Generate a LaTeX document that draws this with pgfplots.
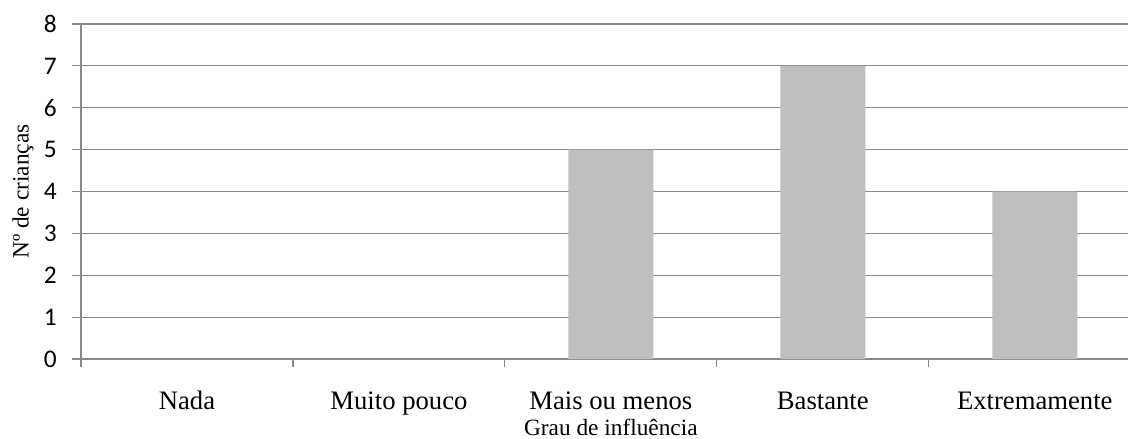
\documentclass[border=0pt]{standalone}
\usepackage{fontspec}
\setmainfont{Liberation Serif}
\newfontfamily\carlito{Carlito}
\usepackage{pgfplots}
\pgfplotsset{compat=1.18}
\definecolor{gridgray}{HTML}{898989}
\definecolor{barfill}{HTML}{BFBFBF}
\begin{document}
\begin{tikzpicture}
\path[use as bounding box] (-60.75pt,-60pt) rectangle (785.25pt,269.25pt);
\begin{axis}[
  at={(0,0)}, anchor=south west,
  scale only axis, width=785.25pt, height=251.25pt,
  xmin=-0.5, xmax=4.44, ymin=0, ymax=8,
  axis x line=bottom, axis y line=left,
  axis line style={-, draw=gridgray, line width=0.9pt},
  xtick={0,1,2,3,4},
  xticklabels={Nada, Muito pouco, Mais ou menos, Bastante, Extremamente},
  minor xtick={-0.5,0.5,1.5,2.5,3.5},
  major x tick style={draw=none},
  minor x tick style={draw=gridgray, line width=0.9pt},
  minor tick length=6pt,
  ytick={0,1,...,8},
  major y tick style={draw=gridgray, line width=0.9pt},
  major tick length=6.75pt,
  tick align=outside,
  ymajorgrids, grid style={draw=gridgray, line width=0.9pt},
  xticklabel style={font=\fontsize{20}{22}\selectfont, anchor=base, yshift=-30.75pt},
  yticklabel style={font=\carlito\fontsize{19}{21}\selectfont, anchor=east, xshift=-8pt},
  /pgf/number format/assume math mode=true,
  xlabel={Grau de influência},
  xlabel style={font=\fontsize{17.5}{19}\selectfont, at={(axis cs:2,0)}, anchor=base, yshift=-57pt},
  ylabel={Nº de crianças},
  ylabel style={font=\fontsize{17.5}{19}\selectfont, at={(axis description cs:0,0.5)}, anchor=center, yshift=43.5pt},
  clip=false,
]
\addplot[ybar, bar width=63.75pt, fill=barfill, draw=none] coordinates {(0,0) (1,0) (2,5) (3,7) (4,4)};
\end{axis}
\end{tikzpicture}
\end{document}
